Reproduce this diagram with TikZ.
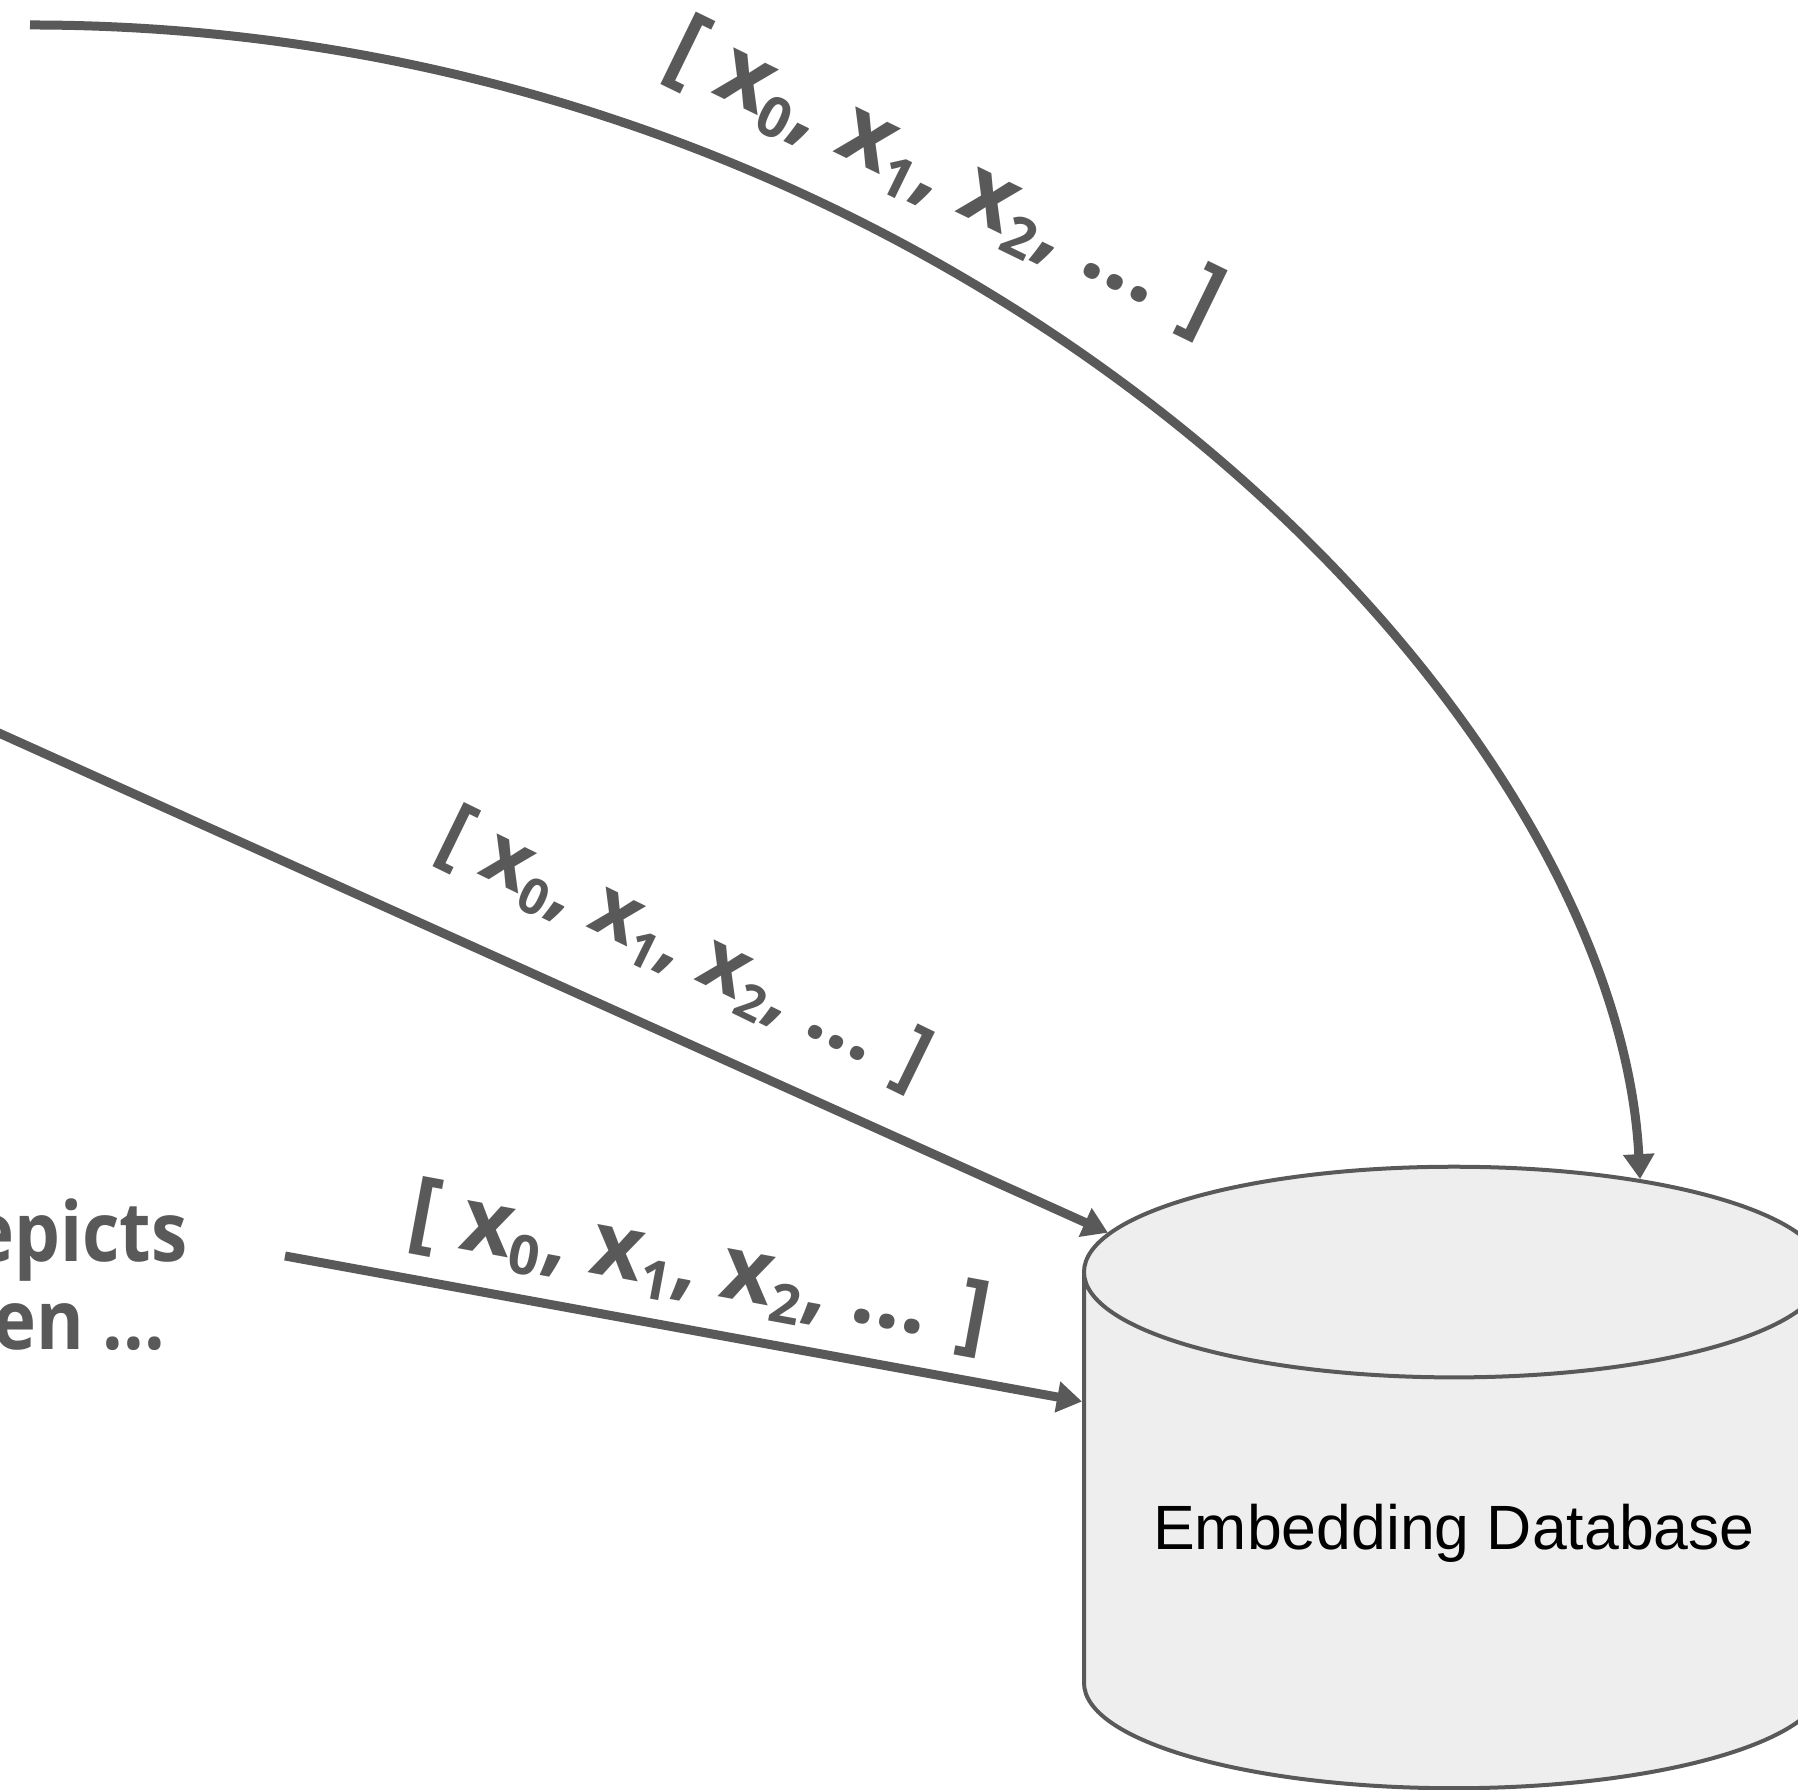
\documentclass[tikz,border=0pt]{standalone}
\usepackage{fontspec}
\usetikzlibrary{shapes.geometric,arrows.meta}
\newfontfamily\lblfont{Open Sans}
\newfontfamily\qryfont{Open Sans}[FakeStretch=0.88]
\newfontfamily\dbfont{Liberation Sans}
\definecolor{ink}{HTML}{595959}
\definecolor{dbfill}{HTML}{EEEEEE}
\newcommand{\dn}[2]{\raisebox{-0.16em}{\fontsize{#1}{#1}\selectfont #2}}
\newcommand{\xvec}[1]{[ x\dn{#1}{0}, x\dn{#1}{1}, x\dn{#1}{2}, ... ]}

\begin{document}
\begin{tikzpicture}[>={Triangle[length=0.25cm,width=0.3cm]},
	flow/.style={->,ink,line width=0.09cm},
	vec/.style={ink,inner sep=0pt,font=\lblfont\bfseries\fontsize{25.6}{30}\selectfont},
	db/.style={cylinder,shape border rotate=90,aspect=0.337,minimum width=7.4cm,minimum height=6.215cm,
		text depth=0.35cm,draw=ink,fill=dbfill,line width=0.04cm,font=\dbfont\fontsize{17.8}{21}\selectfont}]
	\useasboundingbox (0,0) rectangle (17.98,17.90);
	\clip (0,0) rectangle (17.98,17.90);
	\node[db,anchor=shape center] (store) at (14.54,3.125) {Embedding Database};
	\node[ink,inner sep=0pt,align=center,anchor=east,font=\qryfont\bfseries\fontsize{23.5}{25}\selectfont] (query) at (1.88,5.15) {epicts\\en ...};
	\coordinate (src1) at (0.30,17.65);
	\coordinate (src2) at (-0.5,10.79);
	\coordinate (src3) at (2.85,5.34);
	\draw[flow] (src1) .. controls (9.50,17.65) and (16.15,10.90) .. (store.63.6);
	\draw[flow] (src2) -- (store.138.3);
	\draw[flow] (src3) -- (store.159.4);
	\node[vec,rotate=-26,font=\lblfont\bfseries\fontsize{26.3}{30}\selectfont] (vtop) at (9.44,16.12) {\xvec{15.9}};
	\node[vec,rotate=-26,font=\lblfont\bfseries\fontsize{23.3}{28}\selectfont] (vmid) at (6.84,8.40) {\xvec{14.1}};
	\node[vec,rotate=-10.5] (vlow) at (6.99,5.22) {\xvec{15.5}};
\end{tikzpicture}
\end{document}
